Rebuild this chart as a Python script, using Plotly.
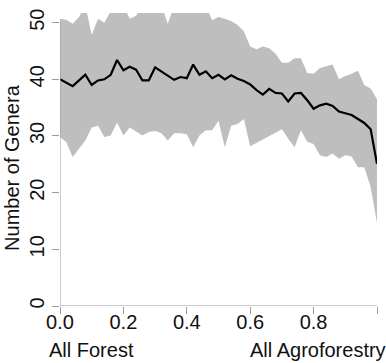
import plotly.graph_objects as go

# x positions: proportion of agroforestry (0 = all forest, 1 = all agroforestry)
prop = [i / 50 for i in range(51)]

mean_genera = [40.0, 39.4, 38.8, 39.8, 40.8, 39.0, 39.8, 40.0, 40.8, 43.4,
               41.6, 42.2, 41.7, 39.8, 39.8, 42.1, 41.4, 40.6, 39.9, 40.4,
               40.2, 42.6, 40.8, 41.4, 40.2, 40.8, 40.0, 40.7, 40.1, 39.7,
               39.1, 38.1, 37.3, 38.3, 37.6, 37.5, 36.1, 37.5, 37.6, 36.3,
               34.8, 35.4, 35.7, 35.3, 34.3, 34.0, 33.7, 33.0, 32.3, 31.2,
               25.1]

upper_genera = [50.7, 50.5, 49.8, 51.0, 53.0, 47.8, 50.7, 50.0, 52.0, 53.0,
                53.0, 50.7, 51.2, 53.0, 53.0, 53.0, 53.0, 49.8, 53.0, 53.0,
                53.0, 53.0, 53.0, 53.0, 50.4, 51.0, 50.7, 50.3, 49.6, 48.5,
                45.8, 45.3, 45.8, 45.5, 44.5, 42.9, 42.9, 43.7, 43.7, 41.1,
                41.0, 42.0, 42.3, 42.6, 40.0, 40.6, 41.0, 41.5, 39.0, 38.4,
                36.5]

lower_genera = [29.8, 28.9, 26.3, 27.8, 29.2, 31.5, 31.8, 29.8, 30.1, 32.4,
                30.1, 31.5, 30.8, 30.1, 30.7, 30.9, 30.5, 29.2, 30.5, 30.5,
                30.3, 28.0, 30.1, 31.0, 31.0, 32.7, 28.0, 31.8, 32.1, 33.0,
                28.2, 28.8, 29.5, 30.1, 30.6, 31.2, 29.5, 28.0, 31.0, 29.0,
                28.6, 26.6, 26.3, 26.9, 26.0, 26.6, 26.4, 24.5, 24.5, 21.0,
                14.7]

x_ticks = [0.0, 0.2, 0.4, 0.6, 0.8, 1.0]
x_tick_labels = ["0.0", "0.2", "0.4", "0.6", "0.8", "1.0"]
y_ticks = [0, 10, 20, 30, 40, 50]
y_tick_labels = ["0", "10", "20", "30", "40", "50"]

W, H = 386, 363
L, R, T, B = 60, 9, 9, 57
PW, PH = W - L - R, H - T - B
YMAX = 51.7

def px_x(p):
    return (p - L) / PW

def px_y(p):
    return (H - B - p) / PH

FONT = "Liberation Sans, Arial, Helvetica, sans-serif"
AXC = "#9a9a9a"
FS = 20

fig = go.Figure()
fig.add_trace(go.Scatter(x=prop, y=upper_genera, mode="lines",
                         line=dict(width=0), hoverinfo="skip", showlegend=False))
fig.add_trace(go.Scatter(x=prop, y=lower_genera, mode="lines",
                         line=dict(width=0), fill="tonexty", fillcolor="#bebebe",
                         hoverinfo="skip", showlegend=False))
fig.add_trace(go.Scatter(x=prop, y=mean_genera, mode="lines",
                         line=dict(color="black", width=2.2), showlegend=False))

fig.update_layout(
    width=W, height=H,
    margin=dict(l=L, r=R, t=T, b=B, pad=0),
    paper_bgcolor="white", plot_bgcolor="white",
    font=dict(family=FONT, size=FS, color="#111"),
    xaxis=dict(range=[0, 1], tickvals=x_ticks, ticktext=x_tick_labels,
               ticks="outside", ticklen=7, tickcolor=AXC, tickwidth=1,
               ticklabelstandoff=-9,
               showline=False, showgrid=False, zeroline=False,
               tickfont=dict(size=FS, family=FONT, color="#111")),
    yaxis=dict(range=[0, YMAX], tickvals=y_ticks, ticktext=y_tick_labels,
               ticks="outside", ticklen=7, tickcolor=AXC, tickwidth=1,
               tickangle=-90,
               showline=False, showgrid=False, zeroline=False,
               tickfont=dict(size=FS, family=FONT, color="#111")),
    shapes=[
        dict(type="line", xref="x", yref="y", x0=0, x1=0, y0=0, y1=50,
             line=dict(color=AXC, width=1), layer="above"),
        dict(type="line", xref="x", yref="y", x0=0, x1=1, y0=0, y1=0,
             line=dict(color=AXC, width=1), layer="above"),
    ],
    annotations=[
        dict(text="Number of Genera", xref="paper", yref="paper",
             x=px_x(12), y=px_y(166), xanchor="center", yanchor="middle",
             textangle=-90, showarrow=False, font=dict(size=FS, family=FONT, color="#111")),
        dict(text="All Forest", xref="paper", yref="paper",
             x=px_x(47), y=px_y(351), xanchor="left", yanchor="middle",
             showarrow=False, font=dict(size=FS, family=FONT, color="#111")),
        dict(text="All Agroforestry", xref="paper", yref="paper",
             x=px_x(248), y=px_y(351), xanchor="left", yanchor="middle",
             showarrow=False, font=dict(size=FS, family=FONT, color="#111")),
    ],
)

fig.write_html("out.html")
